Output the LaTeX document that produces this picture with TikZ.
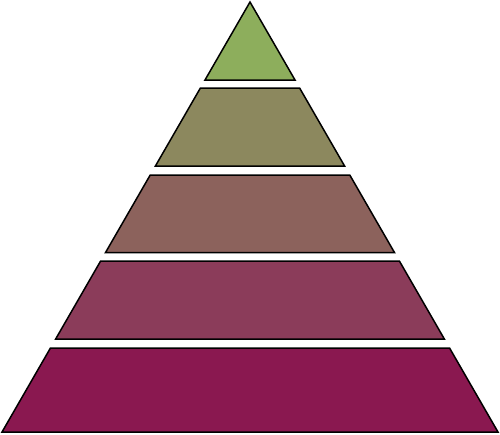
\documentclass[tikz,border=0pt]{standalone}
\definecolor{lay1}{RGB}{141,174,92}
\definecolor{lay2}{RGB}{140,136,94}
\definecolor{lay3}{RGB}{140,98,92}
\definecolor{lay4}{RGB}{139,60,90}
\definecolor{lay5}{RGB}{138,24,80}
\tikzset{layer/.style={draw=black, line width=1.5, line join=miter}}
\begin{document}
\begin{tikzpicture}[x=1pt,y=-1pt]
\useasboundingbox (0,0) rectangle (500,434);
% slope: half-width = (y-2)*0.5767
\pgfmathsetmacro{\k}{0.5767}
\newcommand{\trap}[3]{%
  \pgfmathsetmacro{\ha}{(#1-2)*\k}
  \pgfmathsetmacro{\hb}{(#2-2)*\k}
  \fill[#3] (250-\ha,#1) -- (250+\ha,#1) -- (250+\hb,#2) -- (250-\hb,#2) -- cycle;
  \draw[layer] (250-\ha,#1) -- (250+\ha,#1) -- (250+\hb,#2) -- (250-\hb,#2) -- cycle;
}
\fill[lay1] (250,2) -- (295,80) -- (205,80) -- cycle;
\draw[layer] (250,2) -- (295,80) -- (205,80) -- cycle;
\trap{88}{166}{lay2}
\trap{175}{252.5}{lay3}
\trap{261}{339}{lay4}
\trap{348}{432}{lay5}
\end{tikzpicture}
\end{document}
